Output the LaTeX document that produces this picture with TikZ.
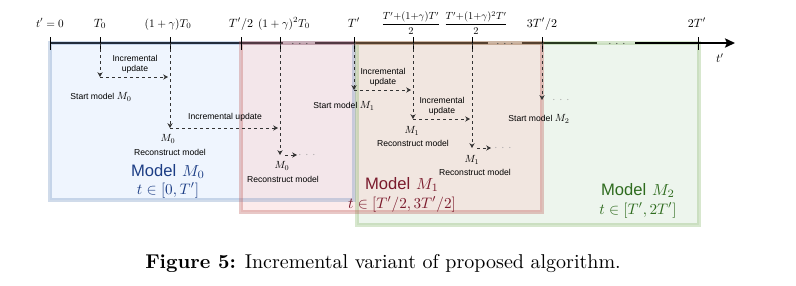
\documentclass[tikz,border=0pt]{standalone}
\usepackage{fontspec}
\usepackage{graphicx}
\setsansfont{Liberation Sans}
\usetikzlibrary{arrows.meta}
\definecolor{bluefill}{HTML}{DAE8FC}
\definecolor{bluedraw}{HTML}{6C8EBF}
\definecolor{redfill}{HTML}{F8CECC}
\definecolor{reddraw}{HTML}{B85450}
\definecolor{greenfill}{HTML}{D5E8D4}
\definecolor{greendraw}{HTML}{82B366}
\definecolor{bluetext}{HTML}{1C3D85}
\definecolor{redtext}{HTML}{7A1A2C}
\definecolor{greentext}{HTML}{2E6B1E}
\newcommand{\smath}[2]{\scalebox{#1}{\fontsize{10}{12}\selectfont$#2$}}
\begin{document}
\begin{tikzpicture}[x=0.5pt,y=-0.5pt,
  boxfill/.style={fill opacity=0.42},
  boxline/.style={line width=1.8pt, draw opacity=0.32},
  axisln/.style={line width=0.8pt, black},
  tickmark/.style={line width=0.5pt, black},
  dline/.style={draw=black!80, line width=0.5pt, dash pattern=on 1.6pt off 1.4pt},
  dar/.style={dline, -{Stealth[length=2.4pt,width=2.6pt]}},
  small/.style={font=\sffamily\fontsize{4.3}{5}\selectfont, inner sep=0pt, align=center},
  mlbl/.style={font=\fontsize{10}{12}\selectfont, inner sep=0pt},
  ticklbl/.style={font=\fontsize{10}{12}\selectfont, inner sep=0pt, anchor=base},
  modellbl/.style={font=\fontsize{8.3}{9}\selectfont, inner sep=0pt, anchor=base},
  gdots/.style={font=\fontsize{5}{6}\selectfont, text=black!35, inner sep=0pt},
  adots/.style={font=\fontsize{5}{6}\selectfont, text=black!75, inner sep=0pt}
]
\useasboundingbox (0,0) rectangle (796,285);

% box fills
\fill[bluefill, boxfill] (50,43) rectangle (354,200);
\fill[greenfill, boxfill] (357,43) rectangle (699,225);
\fill[redfill, fill opacity=0.4] (241,43) rectangle (542,212);

% axis coordinates
\coordinate (a0) at (50,43);
\coordinate (aT0) at (100,43);
\coordinate (ag1) at (170,43);
\coordinate (ah) at (241,43);
\coordinate (ag2) at (280,43);
\coordinate (aT) at (354,43);
\coordinate (af1) at (413,43);
\coordinate (af2) at (472,43);
\coordinate (a3h) at (542,43);
\coordinate (a2T) at (698,43);
\coordinate (aend) at (735,43);
\coordinate (g1s) at (283,43);
\coordinate (g1e) at (315,43);
\coordinate (g2s) at (488,43);
\coordinate (g2e) at (522,43);
\coordinate (g3s) at (597,43);
\coordinate (g3e) at (635,43);

% axis segments
\draw[axisln] (a0) -- (g1s);
\draw[axisln] (g1e) -- (g2s);
\draw[axisln] (g2e) -- (g3s);

% box borders
\draw[bluedraw, boxline] (50,43) rectangle (354,200);
\draw[greendraw, boxline] (357,43) rectangle (699,225);
\draw[reddraw, boxline] (241,43) rectangle (542,212);

% final axis segment
\draw[axisln, line width=1pt, -{Stealth[length=5pt,width=4.6pt,inset=1pt]}] (g3e) -- (aend);

% axis dots
\node[adots] (ad1) at (300,44) {$\cdots$};
\node[adots] (ad2) at (505,44) {$\cdots$};
\node[adots] (ad3) at (617,44) {$\cdots$};

% ticks
\foreach \c in {a0,aT0,ag1,ah,ag2,aT,af1,af2,a3h,a2T}
  \draw[tickmark] (\c) ++(0,-6) -- ++(0,13);

% tick labels
\node[ticklbl] (l0) at (50,27) {\smath{0.56}{t'=0}};
\node[ticklbl] (lT0) at (100,27) {\smath{0.6}{T_0}};
\node[ticklbl] (lg1) at (168,27) {\smath{0.57}{(1+\gamma)T_0}};
\node[ticklbl] (lh) at (241,27) {\smath{0.6}{T'/2}};
\node[ticklbl] (lg2) at (284,27) {\smath{0.57}{(1+\gamma)^2T_0}};
\node[ticklbl] (lT) at (354,27) {\smath{0.6}{T'}};
\node[ticklbl] (lf1) at (411,27) {\smath{0.52}{\displaystyle\frac{T'{+}(1{+}\gamma)T'}{2}}};
\node[ticklbl] (lf2) at (476,27) {\smath{0.52}{\displaystyle\frac{T'{+}(1{+}\gamma)^2T'}{2}}};
\node[ticklbl] (l3h) at (542,27) {\smath{0.6}{3T'/2}};
\node[ticklbl] (l2T) at (697,27) {\smath{0.6}{2T'}};
\node[ticklbl, anchor=center] (ltp) at (720,58) {\smath{0.6}{t'}};

% ---- model M0 ----
\coordinate (c01) at (100,77);
\coordinate (e01) at (168,77);
\draw[dar] (aT0) -- (c01);
\draw[dar] (c01) -- (e01);
\node[small] (iu01) at (135,64) {Incremental\\update};
\node[small] (sm0) at (101,97) {Start model \smath{0.52}{M_0}};

\coordinate (c02) at (170,128);
\coordinate (e02) at (278,128);
\draw[dar] (ag1) -- (c02);
\draw[dar] (c02) -- (e02);
\node[small] (iu02) at (225,117) {Incremental update};
\node[mlbl] (m01) at (168,139) {\smath{0.52}{M_0}};
\node[small] (rm01) at (170,152) {Reconstruct model};

\coordinate (c03) at (280,155);
\coordinate (s03) at (285,155);
\coordinate (e03) at (297,155);
\draw[dar] (ag2) -- (c03);
\draw[dar] (s03) -- (e03);
\node[gdots] (gd0) at (307,155) {$\cdots$};
\node[mlbl] (m02) at (282,166) {\smath{0.52}{M_0}};
\node[small] (rm02) at (283,179) {Reconstruct model};

\node[modellbl, text=bluetext] (lbl0a) at (168,176) {{\sffamily Model} \smath{0.8}{M_0}};
\node[modellbl, text=bluetext] (lbl0b) at (168,194) {\smath{0.76}{t\in[0,T']}};

% ---- model M1 ----
\coordinate (c11) at (354,90);
\coordinate (e11) at (411,90);
\draw[dar] (aT) -- (c11);
\draw[dar] (c11) -- (e11);
\node[small] (iu11) at (383,77.5) {Incremental\\update};
\node[small] (sm1) at (344,106) {Start model \smath{0.52}{M_1}};

\coordinate (c12) at (413,119);
\coordinate (e12) at (470,119);
\draw[dar] (af1) -- (c12);
\draw[dar] (c12) -- (e12);
\node[small] (iu12) at (442,106) {Incremental\\update};
\node[mlbl] (m11) at (412,131) {\smath{0.52}{M_1}};
\node[small] (rm11) at (413,143) {Reconstruct model};

\coordinate (c13) at (472,148);
\coordinate (s13) at (477,148);
\coordinate (e13) at (491,148);
\draw[dar] (af2) -- (c13);
\draw[dar] (s13) -- (e13);
\node[gdots] (gd1) at (503,148) {$\cdots$};
\node[mlbl] (m12) at (472,160) {\smath{0.52}{M_1}};
\node[small] (rm12) at (475,172) {Reconstruct model};

\node[modellbl, text=redtext] (lbl1a) at (402,189) {{\sffamily Model} \smath{0.8}{M_1}};
\node[modellbl, text=redtext] (lbl1b) at (402,208) {\smath{0.76}{t\in[T'/2,3T'/2]}};

% ---- model M2 ----
\coordinate (c21) at (542,100);
\draw[dar] (a3h) -- (c21);
\node[gdots] (gd2) at (561,100) {$\cdots$};
\node[small] (sm2) at (539,119) {Start model \smath{0.52}{M_2}};

\node[modellbl, text=greentext] (lbl2a) at (638,195) {{\sffamily Model} \smath{0.8}{M_2}};
\node[modellbl, text=greentext] (lbl2b) at (638,214) {\smath{0.76}{t\in[T',2T']}};

% caption
\node[font=\fontsize{10}{12}\selectfont, inner sep=0pt, anchor=base] (cap) at (383,268)
  {\textbf{Figure 5:} Incremental variant of proposed algorithm.};
\end{tikzpicture}
\end{document}
